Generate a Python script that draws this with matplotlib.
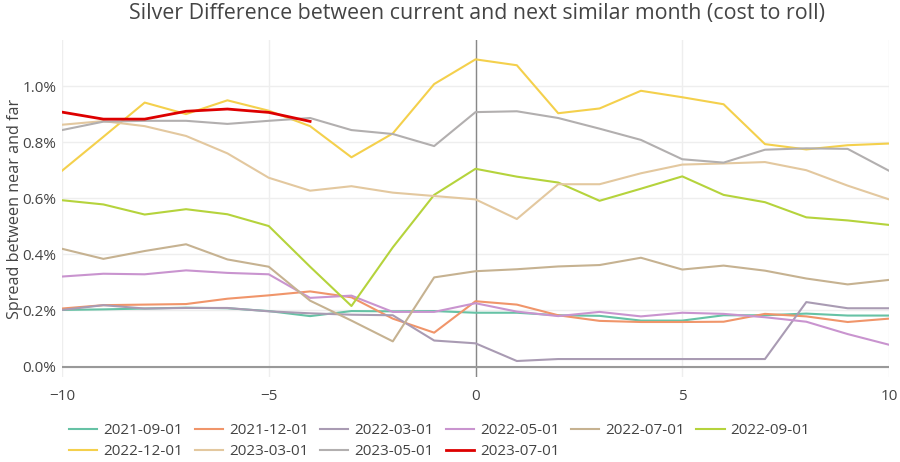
import matplotlib
matplotlib.use("Agg")
import matplotlib.pyplot as plt
from matplotlib.ticker import FuncFormatter

plt.rcParams['font.family'] = ['Open Sans', 'DejaVu Sans']

# months relative to the current contract
months = list(range(-10, 11))

# spread between near and far, in percent
s_2021_09 = [0.202, 0.204, 0.207, 0.210, 0.208, 0.198, 0.180, 0.198, 0.197, 0.198, 0.192,
             0.192, 0.183, 0.181, 0.164, 0.164, 0.183, 0.183, 0.189, 0.182, 0.182]
s_2021_12 = [0.207, 0.219, 0.221, 0.223, 0.242, 0.254, 0.268, 0.247, 0.171, 0.121, 0.233,
             0.221, 0.183, 0.163, 0.159, 0.159, 0.160, 0.188, 0.179, 0.159, 0.171]
s_2022_03 = [0.202, 0.219, 0.207, 0.209, 0.209, 0.197, 0.190, 0.185, 0.183, 0.093, 0.083,
             0.020, 0.027, 0.027, 0.027, 0.027, 0.027, 0.027, 0.230, 0.208, 0.208]
s_2022_05 = [0.321, 0.331, 0.329, 0.343, 0.334, 0.329, 0.245, 0.253, 0.195, 0.195, 0.226,
             0.196, 0.180, 0.195, 0.179, 0.192, 0.188, 0.176, 0.160, 0.116, 0.078]
s_2022_07 = [0.420, 0.384, 0.412, 0.436, 0.382, 0.356, 0.235, 0.164, 0.090, 0.318, 0.340,
             0.347, 0.357, 0.362, 0.388, 0.346, 0.360, 0.342, 0.314, 0.293, 0.309]
s_2022_09 = [0.593, 0.578, 0.542, 0.561, 0.543, 0.501, 0.356, 0.216, 0.425, 0.612, 0.705,
             0.677, 0.656, 0.591, 0.634, 0.678, 0.612, 0.586, 0.532, 0.521, 0.505]
s_2022_12 = [0.698, 0.819, 0.941, 0.900, 0.949, 0.912, 0.857, 0.746, 0.831, 1.007, 1.095,
             1.074, 0.903, 0.920, 0.983, 0.960, 0.935, 0.793, 0.774, 0.789, 0.795]
s_2023_03 = [0.862, 0.875, 0.857, 0.822, 0.760, 0.673, 0.627, 0.643, 0.620, 0.608, 0.596,
             0.526, 0.650, 0.650, 0.689, 0.720, 0.724, 0.729, 0.700, 0.645, 0.596]
s_2023_05 = [0.843, 0.873, 0.876, 0.876, 0.865, 0.876, 0.886, 0.843, 0.829, 0.786, 0.907,
             0.910, 0.886, 0.848, 0.808, 0.739, 0.727, 0.773, 0.778, 0.776, 0.698]
s_2023_07 = [0.907, 0.882, 0.882, 0.910, 0.918, 0.906, 0.874]

labels = ["2021-09-01", "2021-12-01", "2022-03-01", "2022-05-01", "2022-07-01",
          "2022-09-01", "2022-12-01", "2023-03-01", "2023-05-01", "2023-07-01"]
series = [s_2021_09, s_2021_12, s_2022_03, s_2022_05, s_2022_07,
          s_2022_09, s_2022_12, s_2023_03, s_2023_05, s_2023_07]
colors = ["#66c2a5", "#f0956a", "#a99bb3", "#c994cf", "#c6b291",
          "#b5d33c", "#f4d04c", "#e3c89f", "#b2afaf", "#dd0000"]

fig = plt.figure(figsize=(9, 4.62), dpi=100)
ax = fig.add_axes([62/900, 1 - 377/462, (889 - 62)/900, (377 - 40)/462])

handles = []
for lab, s, c in zip(labels, series, colors):
    lw = 2.0 if lab == "2023-07-01" else 1.5
    h, = ax.plot(months[:len(s)], s, color=c, lw=lw, label=lab, zorder=3)
    handles.append(h)

ax.set_xlim(-10, 10)
ax.set_ylim(-0.037, 1.164)
ax.set_xticks([-10, -5, 0, 5, 10])
ax.set_yticks([0, 0.2, 0.4, 0.6, 0.8, 1.0])
ax.yaxis.set_major_formatter(FuncFormatter(lambda v, p: "%.1f%%" % v))
ax.grid(True, color="#eeeeee", lw=1, zorder=0)
ax.axvline(0, color="#888888", lw=1, zorder=2)
ax.axhline(0, color="#999999", lw=1.5, zorder=2)
for sp in ax.spines.values():
    sp.set_visible(False)
ax.tick_params(length=0, labelsize=11, labelcolor="#444444")
ax.tick_params(axis="x", pad=9)
ax.tick_params(axis="y", pad=4)
ax.set_ylabel("Spread between near and far", fontsize=11.6, color="#444444")
ax.yaxis.set_label_coords((23 - 62)/827, 0.5)

fig.text(477/900, 1 - 14/462, "Silver Difference between current and next similar month (cost to roll)",
         ha="center", va="center", fontsize=15.4, color="#444444")

order = [0, 6, 1, 7, 2, 8, 3, 9, 4, 5]
fig.legend([handles[i] for i in order], [labels[i] for i in order],
           loc="upper left", bbox_to_anchor=(69/900, 1 - 423/462), ncol=6,
           frameon=False, fontsize=11, labelcolor="#444444",
           handlelength=1.85, handletextpad=0.4, columnspacing=0.75,
           borderpad=0, borderaxespad=0, labelspacing=0.4)

fig.savefig("out.png", dpi=100)
